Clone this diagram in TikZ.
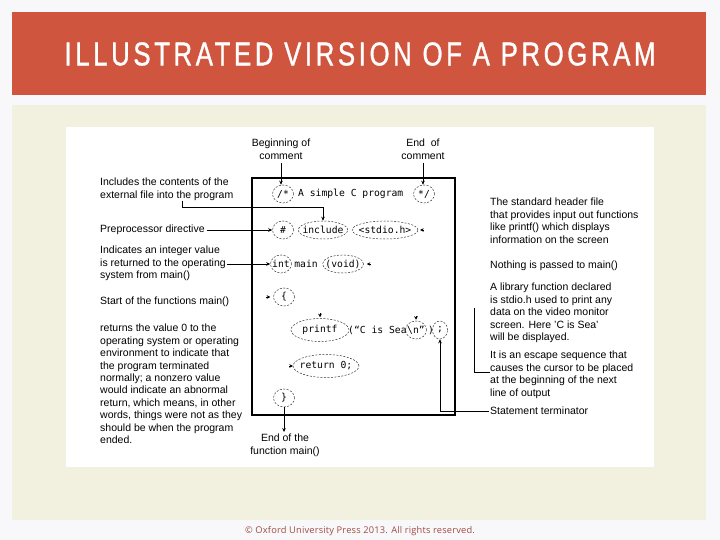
\documentclass[tikz,border=0pt]{standalone}
\usepackage{fontspec}
\setmainfont{Liberation Sans}
\newfontfamily\codefont{DejaVu Sans Mono}
\newfontfamily\titlefont[FakeStretch=0.78,LetterSpace=11,FakeBold=1]{Liberation Sans}
\newfontfamily\footfont[LetterSpace=2]{Open Sans}
\usetikzlibrary{arrows.meta,positioning,shapes.geometric}
\definecolor{titlered}{RGB}{208,85,62}
\definecolor{panelbeige}{RGB}{242,240,222}
\definecolor{pagegray}{RGB}{248,248,250}
\definecolor{footred}{RGB}{160,75,65}

\begin{document}
\begin{tikzpicture}[x=1pt,y=-1pt,
  every node/.style={inner sep=0pt},
  lbl/.style={font=\fontsize{10.5}{12.4}\selectfont,align=left,anchor=north west},
  toplbl/.style={font=\fontsize{10.5}{12.4}\selectfont,align=center,anchor=north},
  code/.style={font=\codefont\fontsize{9.7}{11}\selectfont},
  ring/.style={code,ellipse,draw=black!80,dash pattern=on 2pt off 1.5pt,line width=0.5pt,
    inner xsep=-3pt,inner ysep=1.5pt,minimum width=21pt,minimum height=18pt},
  arr/.style={-{Stealth[length=4pt,width=3.5pt]},line width=0.6pt},
  stub/.style={-{Stealth[length=3.5pt,width=3.5pt]},line width=0.5pt}]

  % slide background
  \fill[pagegray] (0,0) rectangle (720,540);
  \fill[titlered] (12,12) rectangle (706,95);
  \fill[panelbeige] (12,105) rectangle (706,520);
  \fill[white] (66,127) rectangle (654,467);
  \node[font=\titlefont\fontsize{33}{33}\selectfont,text=white] (title) at (360,54)
    {ILLUSTRATED VIRSION OF A PROGRAM};

  % the program
  \draw[line width=1.3pt] (252,178) rectangle (455,415);
  \node[ring] (cmtbeg) at (283,194) {/*};
  \node[code,anchor=west] (cmttxt) at (298,194) {A simple C program};
  \node[ring] (cmtend) at (424,194) {*/};
  \node[ring] (hash) at (283,230) {\#};
  \node[ring] (inc) at (323,230) {include};
  \node[ring] (stdio) at (385,230) {<stdio.h>};
  \node[ring] (int) at (281,264) {int};
  \node[code] (main) at (306,264) {main};
  \node[ring] (void) at (343,264) {(void)};
  \node[ring] (open) at (284,297) {\{};
  \node[ring,inner xsep=3pt,minimum height=23pt] (printf) at (320,330) {printf};
  \node[code,anchor=west] (msg) at (348,330) {(“C is Sea};
  \node[ring] (newl) at (416,330) {\textbackslash n”};
  \node[code] (paren) at (431,330) {)};
  \node[ring,minimum width=15pt] (semi) at (440,330) {;};
  \node[ring,minimum height=23pt] (ret) at (326,366) {return 0;};
  \node[ring] (close) at (284,398) {\}};

  % labels on the left
  \node[lbl] (lblinc) at (100,178) {Includes the contents of the\\external file into the program};
  \node[lbl] (lblpre) at (100,225) {Preprocessor directive};
  \node[lbl] (lblint) at (100,246) {Indicates an integer value\\is returned to the operating\\system from main()};
  \node[lbl] (lblstart) at (100,297) {Start of the functions main()};
  \node[lbl] (lblret) at (100,324) {returns the value 0 to the\\operating system or operating\\environment to indicate that\\the program terminated\\normally; a nonzero value\\would indicate an abnormal\\return, which means, in other\\words, things were not as they\\should be when the program\\ended.};

  % labels on the right
  \node[lbl] (lblhdr) at (490,198) {The standard header file\\that provides input out functions\\like printf() which displays\\information on the screen};
  \node[lbl] (lblvoid) at (490,261) {Nothing is passed to main()};
  \node[lbl] (lblprintf) at (490,283) {A library function declared\\is stdio.h used to print any\\data on the video monitor\\screen. Here 'C is Sea'\\will be displayed.};
  \node[lbl] (lblesc) at (490,351) {It is an escape sequence that\\causes the cursor to be placed\\at the beginning of the next\\line of output};
  \node[lbl] (lblterm) at (490,407) {Statement terminator};

  % labels above and below
  \node[toplbl] (lblbeg) at (281,139) {Beginning of\\comment};
  \node[toplbl] (lblendc) at (423,139) {End\ \ of\\comment};
  \node[toplbl] (lblendf) at (285,434) {End of the\\function main()};

  % connectors
  \coordinate (incbend) at (182,207);
  \coordinate (esctop) at (474,308);
  \coordinate (escbot) at (474,372);
  \draw[arr,shorten <=3pt] (lblbeg.south) -- (lblbeg.south |- cmtbeg.north);
  \draw[arr,shorten <=3pt] (lblendc.south) -- (lblendc.south |- cmtend.north);
  \draw[arr] (lblinc.south -| incbend) -- (incbend) -| (inc.north);
  \draw[arr,shorten <=2pt] (lblpre.east |- hash.west) -- (hash.west);
  \draw[arr,shorten <=1pt] (lblint.east |- int.west) -- (int.west);
  \draw[arr,shorten <=1pt] (lblterm.west) -| (semi.south);
  \draw[arr,shorten >=2pt] (close.south) -- (close.south |- lblendf.north);
  \draw[line width=0.6pt] (esctop) -- (escbot) -- (escbot -| lblesc.west);

  % tips left from the cut leader lines
  \draw[stub] ([xshift=6pt]stdio.east) -- ([xshift=2pt]stdio.east);
  \draw[stub] ([xshift=7pt]void.east) -- ([xshift=3pt]void.east);
  \draw[stub] ([xshift=-7pt]open.west) -- ([xshift=-3pt]open.west);
  \draw[stub] ([yshift=5pt]printf.north) -- ([yshift=1pt]printf.north);
  \draw[stub] ([yshift=5pt]newl.north) -- ([yshift=1pt]newl.north);
  \draw[stub] ([xshift=-4pt]ret.west) -- (ret.west);

  % footer
  \node[font=\footfont\fontsize{9.3}{10}\selectfont,text=footred] (foot) at (360,531)
    {© Oxford University Press 2013. All rights reserved.};
\end{tikzpicture}
\end{document}
